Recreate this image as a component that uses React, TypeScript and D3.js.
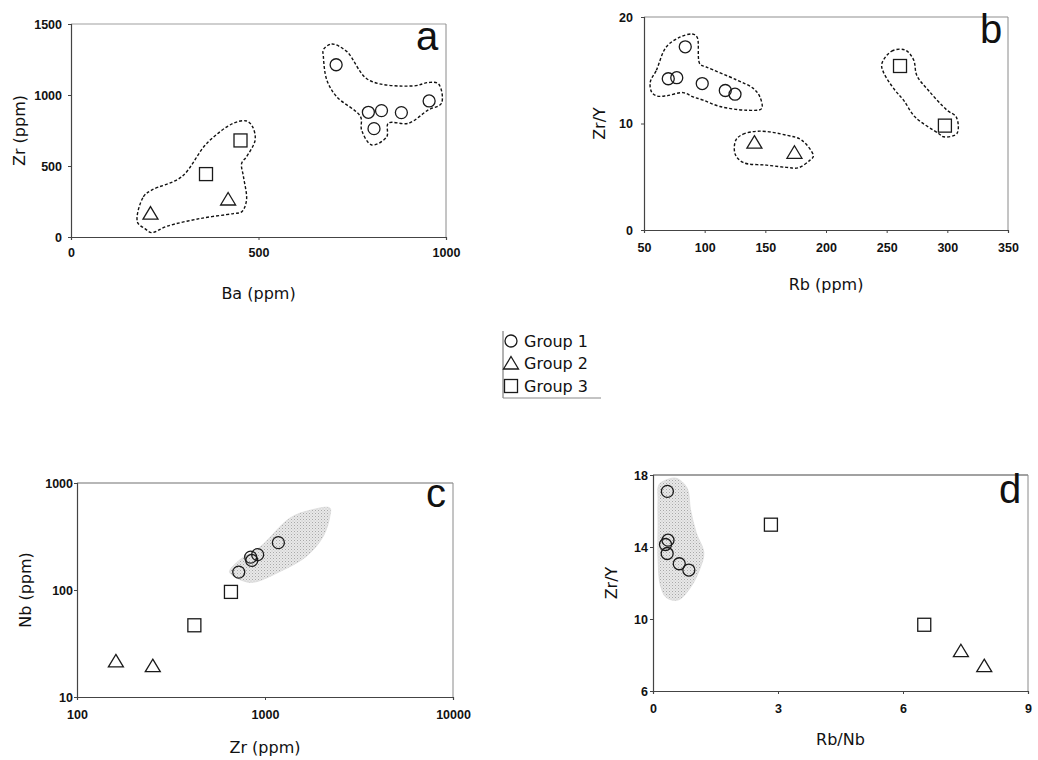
import React, { useEffect, useRef } from "react";
import * as d3 from "d3";

const groups = ["Group 1", "Group 2", "Group 3"];

// panel a: Ba vs Zr
const aBa1 = [707, 793, 828, 808, 881, 955];
const aZr1 = [1213, 878, 890, 763, 876, 958];
const aBa2 = [212, 419];
const aZr2 = [165, 264];
const aBa3 = [360, 452];
const aZr3 = [443, 680];
const aEnvLow = [[177, 106], [193, 283], [215, 330], [295, 424], [362, 659], [433, 801], [468, 817], [484, 777], [491, 683], [468, 565], [455, 518], [460, 424], [468, 259], [455, 177], [433, 165], [344, 130], [255, 75], [215, 31], [197, 59]];
const aEnvHigh = [[673, 1319], [695, 1359], [735, 1307], [793, 1107], [913, 1064], [953, 1088], [980, 1078], [988, 942], [953, 895], [900, 801], [846, 801], [842, 706], [802, 648], [775, 753], [772, 848], [708, 989], [682, 1107], [673, 1271]];

// panel b: Rb vs Zr/Y
const bRb1 = [84, 70, 77, 98, 117, 125];
const bZrY1 = [17.2, 14.2, 14.3, 13.75, 13.1, 12.75];
const bRb2 = [141, 174];
const bZrY2 = [8.2, 7.25];
const bRb3 = [261, 298];
const bZrY3 = [15.4, 9.8];
const bEnv1 = [[55.2, 13.9], [60.2, 15.0], [68.4, 17.2], [79.5, 18.1], [89.9, 18.4], [93.8, 18.1], [96, 15.6], [101.5, 15.3], [126.2, 14.1], [140, 13.3], [145.5, 12.5], [146.9, 11.4], [134.5, 11.25], [112.5, 11.6], [98.7, 12.2], [90.5, 12.5], [82.2, 12.9], [68.4, 12.6], [60.2, 12.6], [56.1, 13.0]];
const bEnv2 = [[125.7, 8.44], [131.7, 9.0], [145.5, 9.28], [167.5, 8.9], [179.9, 8.44], [189.6, 6.94], [186.8, 6.56], [177.2, 5.84], [167.5, 5.88], [151, 6.09], [131.7, 6.34], [125.1, 7.13]];
const bEnv3 = [[246, 15.6], [254.2, 16.8], [265.2, 16.9], [272.1, 16.0], [274.9, 14.5], [284.5, 13.1], [299.7, 11.25], [307.4, 10.6], [307.9, 9.06], [296.9, 8.75], [292.8, 9.06], [273.5, 10.6], [263.9, 12.2], [257, 13.1], [247.4, 14.8]];

// panel c: Zr vs Nb (log-log)
const cZr1 = [725, 839, 850, 914, 1178];
const cNb1 = [147, 203, 189, 214, 277];
const cZr2 = [161, 253];
const cNb2 = [21.5, 19.4];
const cZr3 = [421, 659];
const cNb3 = [46.8, 96];
const cField = [[647, 149], [736, 192], [940, 252], [1358, 471], [1734, 556], [2213, 584], [2213, 488], [2042, 318], [1663, 207], [1203, 149], [867, 118], [752, 123], [665, 139]];

// panel d: Rb/Nb vs Zr/Y
const dRbNb1 = [0.345, 0.36, 0.3, 0.34, 0.63, 0.86];
const dZrY1 = [17.09, 14.38, 14.14, 13.64, 13.07, 12.72];
const dRbNb2 = [7.39, 7.95];
const dZrY2 = [8.21, 7.38];
const dRbNb3 = [2.83, 6.51];
const dZrY3 = [15.24, 9.68];
const dField = [[0.14, 17.45], [0.32, 17.73], [0.56, 17.82], [0.82, 17.27], [0.9, 16.07], [1.04, 14.78], [1.22, 13.68], [1.12, 12.76], [0.9, 11.75], [0.6, 11.05], [0.32, 11.19], [0.18, 11.84], [0.12, 13.31], [0.12, 15.15], [0.12, 16.63]];

const FONT = "'Liberation Sans', Arial, sans-serif";
const TFONT = "'DejaVu Sans', sans-serif";

const panels = [
  {
    box: [71, 446, 24, 237], xDomain: [0, 1000], yDomain: [0, 1500], log: false,
    xTicks: [0, 500, 1000], yTicks: [0, 500, 1000, 1500],
    xTitle: "Ba (ppm)", yTitle: "Zr (ppm)", letter: "a", letterPos: [427, 50],
    xTitleDy: 62, yTitleDx: -52, yLabDx: -9, xLabDy: 19, frame: "#a0a0a0",
    series: [[aBa1, aZr1], [aBa2, aZr2], [aBa3, aZr3]],
    dashed: [aEnvLow, aEnvHigh], shaded: []
  },
  {
    box: [644, 1008, 17, 230], xDomain: [50, 350], yDomain: [0, 20], log: false,
    xTicks: [50, 100, 150, 200, 250, 300, 350], yTicks: [0, 10, 20],
    xTitle: "Rb (ppm)", yTitle: "Zr/Y", letter: "b", letterPos: [991, 43],
    xTitleDy: 60, yTitleDx: -45, yLabDx: -11, xLabDy: 21, frame: "#909090",
    series: [[bRb1, bZrY1], [bRb2, bZrY2], [bRb3, bZrY3]],
    dashed: [bEnv1, bEnv2, bEnv3], shaded: []
  },
  {
    box: [77, 453, 483, 697], xDomain: [100, 10000], yDomain: [10, 1000], log: true,
    xTicks: [100, 1000, 10000], yTicks: [10, 100, 1000],
    xTitle: "Zr (ppm)", yTitle: "Nb (ppm)", letter: "c", letterPos: [436, 507],
    xTitleDy: 56, yTitleDx: -52, yLabDx: -4, xLabDy: 21, frame: "#707070",
    series: [[cZr1, cNb1], [cZr2, cNb2], [cZr3, cNb3]],
    dashed: [], shaded: [cField]
  },
  {
    box: [653, 1028, 475, 691], xDomain: [0, 9], yDomain: [6, 18], log: false,
    xTicks: [0, 3, 6, 9], yTicks: [6, 10, 14, 18],
    xTitle: "Rb/Nb", yTitle: "Zr/Y", letter: "d", letterPos: [1010, 503],
    xTitleDy: 54, yTitleDx: -42, yLabDx: -5, xLabDy: 21, frame: "#444",
    series: [[dRbNb1, dZrY1], [dRbNb2, dZrY2], [dRbNb3, dZrY3]],
    dashed: [], shaded: [dField]
  }
];

function drawMarker(g: any, kind: number, x: number, y: number) {
  const st = { stroke: "#1a1a1a", "stroke-width": 1.3, fill: "none" };
  let el;
  if (kind === 0) {
    el = g.append("circle").attr("cx", x).attr("cy", y).attr("r", 6);
  } else if (kind === 1) {
    el = g.append("path").attr("d", `M${x},${y - 7}L${x + 7.5},${y + 5.5}L${x - 7.5},${y + 5.5}Z`);
  } else {
    el = g.append("rect").attr("x", x - 6.5).attr("y", y - 6.5).attr("width", 13).attr("height", 13);
  }
  Object.entries(st).forEach(([k, v]) => el.attr(k, v));
}

export default function App() {
  const ref = useRef<SVGSVGElement>(null);

  useEffect(() => {
    const svg = d3.select(ref.current);
    svg.selectAll("*").remove();

    // stippled grey fill for the reference fields
    const pat = svg.append("defs").append("pattern").attr("id", "stipple")
      .attr("width", 3).attr("height", 3).attr("patternUnits", "userSpaceOnUse");
    pat.append("rect").attr("width", 3).attr("height", 3).attr("fill", "#e8e8e8");
    pat.append("rect").attr("width", 1).attr("height", 1).attr("fill", "#a8a8a8");
    pat.append("rect").attr("x", 1.5).attr("y", 1.5).attr("width", 1).attr("height", 1).attr("fill", "#c0c0c0");

    panels.forEach((p) => {
      const [l, r, t, b] = p.box;
      const x = (p.log ? d3.scaleLog() : d3.scaleLinear()).domain(p.xDomain).range([l, r]);
      const y = (p.log ? d3.scaleLog() : d3.scaleLinear()).domain(p.yDomain).range([b, t]);
      const g = svg.append("g");

      const line = d3.line<number[]>().x(d => x(d[0])).y(d => y(d[1])).curve(d3.curveCatmullRomClosed.alpha(0.5));

      p.shaded.forEach(poly => {
        g.append("path").attr("d", line(poly)).attr("fill", "url(#stipple)").attr("stroke", "#d4d4d4").attr("stroke-width", 0.6);
      });

      // frame
      g.append("line").attr("x1", l).attr("x2", r).attr("y1", t).attr("y2", t).attr("stroke", p.frame).attr("stroke-width", 1.1);
      g.append("line").attr("x1", r).attr("x2", r).attr("y1", t).attr("y2", b).attr("stroke", "#8a8a8a").attr("stroke-width", 1);

      const xAxis = g.append("g").attr("transform", `translate(0,${b})`)
        .call(d3.axisBottom(x).tickValues(p.xTicks).tickSize(3).tickFormat(d3.format("d") as any));
      const yAxis = g.append("g").attr("transform", `translate(${l},0)`)
        .call(d3.axisLeft(y).tickValues(p.yTicks).tickSize(3).tickFormat(d3.format("d") as any));
      [xAxis, yAxis].forEach(ax => {
        ax.select(".domain").attr("stroke", "#444").attr("stroke-width", 1.2);
        ax.selectAll(".tick line").attr("stroke", "#444");
        ax.selectAll("text").attr("font-family", FONT).attr("font-size", 12.5).attr("fill", "#111").attr("font-weight", "bold");
      });
      xAxis.selectAll("text").attr("y", p.xLabDy - 3).attr("dy", "0.32em");
      yAxis.selectAll("text").attr("x", p.yLabDx);

      p.dashed.forEach(poly => {
        g.append("path").attr("d", line(poly)).attr("fill", "none").attr("stroke", "#111")
          .attr("stroke-width", 1.4).attr("stroke-dasharray", "3,2");
      });

      p.series.forEach((s, k) => {
        s[0].forEach((xv, i) => drawMarker(g, k, x(xv), y(s[1][i])));
      });

      g.append("text").attr("x", (l + r) / 2).attr("y", b + p.xTitleDy).attr("text-anchor", "middle")
        .attr("font-family", TFONT).attr("font-size", 16).attr("fill", "#111").text(p.xTitle);
      g.append("text").attr("transform", `translate(${l + p.yTitleDx},${(t + b) / 2}) rotate(-90)`)
        .attr("text-anchor", "middle").attr("dy", "0.35em")
        .attr("font-family", TFONT).attr("font-size", 16).attr("fill", "#111").text(p.yTitle);
      g.append("text").attr("x", p.letterPos[0]).attr("y", p.letterPos[1]).attr("text-anchor", "middle")
        .attr("font-family", FONT).attr("font-size", 40).attr("fill", "#111").text(p.letter);
    });

    // legend
    const lg = svg.append("g");
    lg.append("line").attr("x1", 503).attr("x2", 503).attr("y1", 331).attr("y2", 398).attr("stroke", "#666");
    lg.append("line").attr("x1", 503).attr("x2", 601).attr("y1", 398).attr("y2", 398).attr("stroke", "#888");
    groups.forEach((name, k) => {
      const cy = 341 + k * 22.5;
      drawMarker(lg, k, 511, cy);
      lg.append("text").attr("x", 524).attr("y", cy).attr("dy", "0.35em")
        .attr("font-family", TFONT).attr("font-size", 16).attr("fill", "#111").text(name);
    });
  }, []);

  return (
    <svg ref={ref} width={1038} height={760} style={{ position: "absolute", left: 0, top: 0, background: "#fff" }} />
  );
}
